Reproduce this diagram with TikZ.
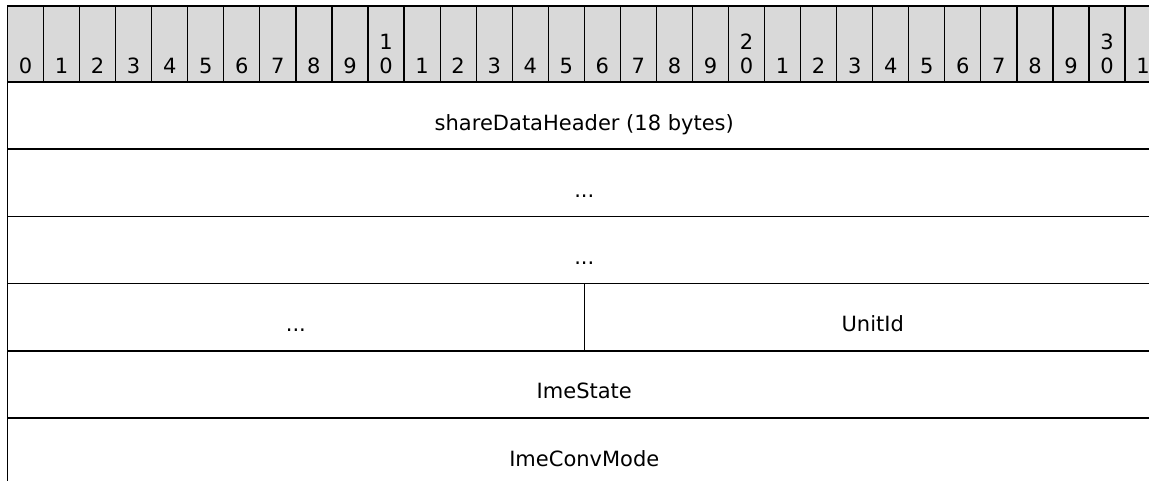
\documentclass[tikz,border=0pt]{standalone}
\usepackage{fontspec}
\setmainfont{DejaVu Sans}
\usepackage{tikz}
\usetikzlibrary{positioning}
\definecolor{hdrgray}{RGB}{217,217,217}
\newcommand{\cellw}{36.05}

\begin{document}
\begin{tikzpicture}[
  x=1pt, y=-1pt,
  every node/.style={font=\fontsize{21}{24}\selectfont, inner sep=0pt, outer sep=0pt},
  bitcell/.style={draw, fill=hdrgray, line width=1.2pt, minimum width=\cellw pt, minimum height=76pt, anchor=north west},
  bitnum/.style={align=center, text depth=0pt},
  field/.style={draw, line width=1.5pt, minimum height=67.2pt, text height=29pt, text depth=0pt},
  wide/.style={field, minimum width=32*\cellw pt},
  half/.style={field, minimum width=16*\cellw pt}
]
\useasboundingbox (0,0) rectangle (1149,481);
\clip (0,0) rectangle (1149,481);

% bit ruler
\foreach \i in {0,...,31} {
  \pgfmathtruncatemacro{\lo}{mod(\i,10)}
  \pgfmathtruncatemacro{\hi}{\i/10}
  \node[bitcell] (b\i) at ({7.5+\i*\cellw},6) {};
  \ifnum\lo=0 \ifnum\hi>0
    \node[bitnum, above=8pt of b\i.south] (n\i) {\hi\\0};
  \else
    \node[bitnum, above=8pt of b\i.south] (n\i) {\lo};
  \fi\else
    \node[bitnum, above=8pt of b\i.south] (n\i) {\lo};
  \fi
}

% fields
\node[wide, anchor=north west] (hdr) at (b0.south west) {shareDataHeader (18 bytes)};
\node[wide, below=0pt of hdr] (more1) {...};
\node[wide, below=0pt of more1] (more2) {...};
\node[half, below right=0pt and 0pt of more2.south west] (more3) {...};
\node[half, right=0pt of more3] (unit) {UnitId};
\node[wide, below right=0pt and 0pt of more3.south west] (state) {ImeState};
\node[wide, below=0pt of state] (conv) {ImeConvMode};
\end{tikzpicture}
\end{document}
